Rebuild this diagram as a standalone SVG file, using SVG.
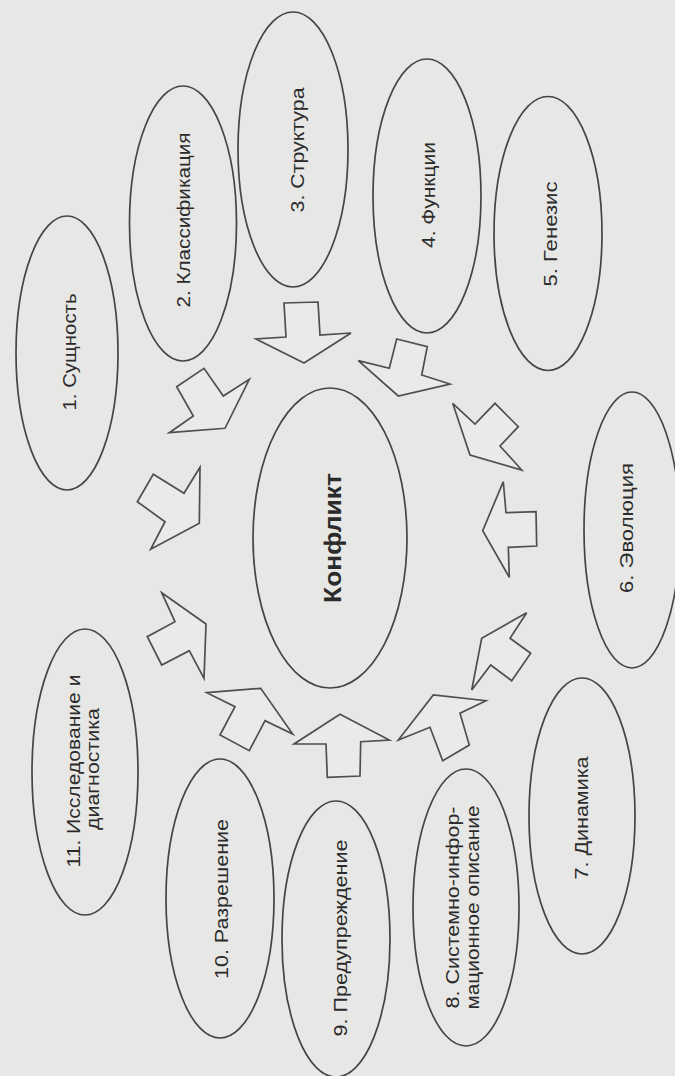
<svg xmlns="http://www.w3.org/2000/svg" width="675" height="1076" viewBox="0 0 675 1076">
<style>
.bg{fill:#e7e7e5}
.node{fill:none;stroke:#454545;stroke-width:1.7}
.arr{fill:#eaeae8;stroke:#4f4f4f;stroke-width:1.7;stroke-linejoin:miter}
.lbl{font-family:"Liberation Sans",Arial,sans-serif;font-size:17.5px;fill:#2b2b2b;text-anchor:middle}
.main{font-family:"Liberation Sans",Arial,sans-serif;font-size:23px;font-weight:bold;fill:#2b2b2b;text-anchor:middle}
</style>
<rect class="bg" x="0" y="0" width="675" height="1076"/>
<g id="connectors">
<polygon class="arr" points="284,303 318,302 320,335 351,333 304,363 256,339 286,337"/>
<polygon class="arr" points="176.7,386.7 204,368.3 223.3,396 249.3,379.3 225,428.3 169.3,432.7 193.3,416"/>
<polygon class="arr" points="396.7,339 427.3,346.7 421.7,375 450,384 398.3,396 358.3,360.7 389.3,368.3"/>
<polygon class="arr" points="452.7,403.3 475,424 495,403.3 518.3,426.7 500,446 521.7,470 470,455"/>
<polygon class="arr" points="503.3,481.7 506,512.7 536,511.7 536.7,546 508.3,547.3 509.3,577.3 482.7,530.7"/>
<polygon class="arr" points="526.7,612.7 510,638.3 530.7,653.3 511.7,680.7 490.7,665 471.7,690 481.7,638.3"/>
<polygon class="arr" points="486,700.7 460,713.3 469.3,745 442.7,760.7 430,727.3 398.3,740 433.3,695"/>
<polygon class="arr" points="340,714.3 389.3,740 360.7,741.7 360,776 327.3,777.3 326,744 294,744"/>
<polygon class="arr" points="206.7,692.7 260.7,688.3 292.7,734 265,720.7 249.3,750.7 220,735 235,706.7"/>
<polygon class="arr" points="200,467.3 184,493.3 153.3,474.3 137.3,501.7 165,521.7 150.7,549.3 199.3,523.3"/>
<polygon class="arr" points="161.7,592.7 206,624 204,678.3 189.3,650.7 161.7,665 147.3,636.7 175,621.7"/>
</g>
<g id="n0">
<ellipse class="node" cx="330" cy="538" rx="77" ry="150"/>
<text class="main" transform="translate(341,538) rotate(-90)" textLength="130" lengthAdjust="spacingAndGlyphs">Конфликт</text>
</g>
<g id="n1">
<ellipse class="node" cx="67" cy="353" rx="51" ry="137"/>
<text class="lbl" transform="translate(75.5,352) rotate(-90)" textLength="117" lengthAdjust="spacingAndGlyphs">1. Сущность</text>
</g>
<g id="n2">
<ellipse class="node" cx="183" cy="223.5" rx="53.5" ry="137.5"/>
<text class="lbl" transform="translate(189.5,220) rotate(-90)" textLength="175" lengthAdjust="spacingAndGlyphs">2. Классификация</text>
</g>
<g id="n3">
<ellipse class="node" cx="293" cy="149.5" rx="55" ry="137.5"/>
<text class="lbl" transform="translate(303.5,150) rotate(-90)" textLength="125" lengthAdjust="spacingAndGlyphs">3. Структура</text>
</g>
<g id="n4">
<ellipse class="node" cx="427" cy="196" rx="54" ry="137"/>
<text class="lbl" transform="translate(435,195) rotate(-90)" textLength="106" lengthAdjust="spacingAndGlyphs">4. Функции</text>
</g>
<g id="n5">
<ellipse class="node" cx="548" cy="233.5" rx="54" ry="137"/>
<text class="lbl" transform="translate(556.5,234) rotate(-90)" textLength="105" lengthAdjust="spacingAndGlyphs">5. Генезис</text>
</g>
<g id="n6">
<ellipse class="node" cx="632" cy="530" rx="48" ry="138"/>
<text class="lbl" transform="translate(632.5,528) rotate(-90)" textLength="130" lengthAdjust="spacingAndGlyphs">6. Эволюция</text>
</g>
<g id="n7">
<ellipse class="node" cx="582" cy="816" rx="53" ry="138"/>
<text class="lbl" transform="translate(588,818) rotate(-90)" textLength="123" lengthAdjust="spacingAndGlyphs">7. Динамика</text>
</g>
<g id="n8">
<ellipse class="node" cx="466" cy="907.5" rx="53" ry="138.5"/>
<g transform="translate(459,907.5) rotate(-90)">
<text class="lbl" x="0" y="0" textLength="202" lengthAdjust="spacingAndGlyphs">8. Системно-инфор-</text>
<text class="lbl" x="0" y="20" textLength="204" lengthAdjust="spacingAndGlyphs">мационное описание</text>
</g>
</g>
<g id="n9">
<ellipse class="node" cx="336" cy="939" rx="54" ry="138"/>
<text class="lbl" transform="translate(346.5,938) rotate(-90)" textLength="197" lengthAdjust="spacingAndGlyphs">9. Предупреждение</text>
</g>
<g id="n10">
<ellipse class="node" cx="220" cy="898.5" rx="54" ry="139.5"/>
<text class="lbl" transform="translate(228,899) rotate(-90)" textLength="160" lengthAdjust="spacingAndGlyphs">10. Разрешение</text>
</g>
<g id="n11">
<ellipse class="node" cx="85" cy="772" rx="53" ry="143"/>
<g transform="translate(79.5,771) rotate(-90)">
<text class="lbl" x="0" y="0" textLength="193" lengthAdjust="spacingAndGlyphs">11. Исследование и</text>
<text class="lbl" x="2" y="19.5" textLength="122" lengthAdjust="spacingAndGlyphs">диагностика</text>
</g>
</g>
</svg>
